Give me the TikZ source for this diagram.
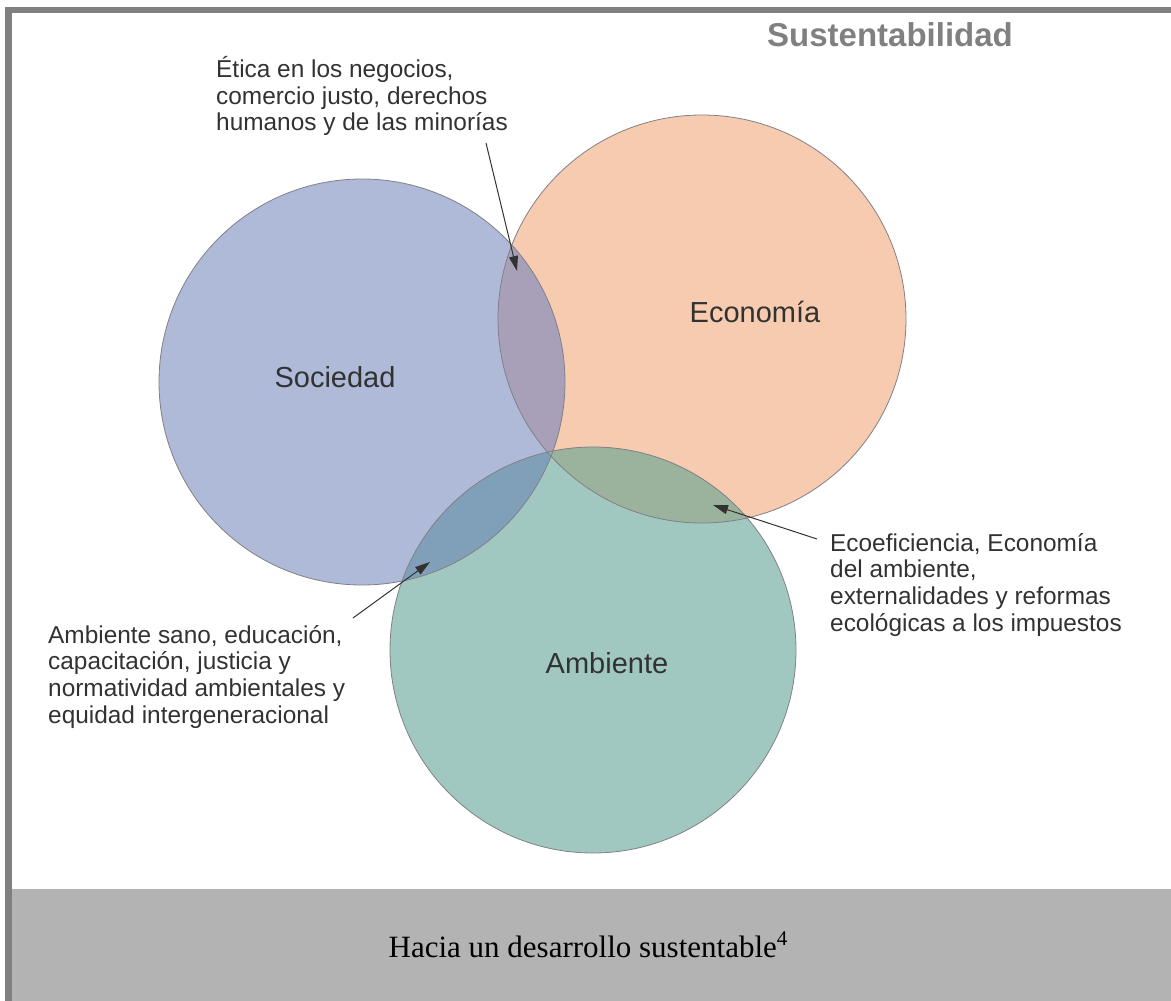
\documentclass[tikz,border=0pt]{standalone}
\usepackage{fontspec}
\setmainfont{Liberation Sans}
\newfontfamily\capfont{Liberation Serif}
\usetikzlibrary{arrows.meta}

\definecolor{soccol}{RGB}{174,186,216}
\definecolor{ecocol}{RGB}{247,203,176}
\definecolor{ambcol}{RGB}{161,200,192}
\definecolor{socecocol}{RGB}{168,160,184}
\definecolor{socambcol}{RGB}{128,160,186}
\definecolor{ecoambcol}{RGB}{155,178,157}
\definecolor{rimcol}{RGB}{128,128,136}
\definecolor{txtcol}{RGB}{50,50,50}
\definecolor{framecol}{RGB}{128,128,128}
\definecolor{bandcol}{RGB}{179,179,179}

\begin{document}
\begin{tikzpicture}[
        x=1pt, y=-1pt,
        every node/.style = {inner sep=0pt, text=txtcol},
        note/.style = {align=left, anchor=north west,
                    font=\fontsize{24.4}{26.7}\selectfont},
        setname/.style = {font=\fontsize{29}{34}\selectfont},
        rim/.style = {draw=rimcol, line width=0.8pt},
        pointer/.style = {-{Triangle[length=15pt, width=9pt]},
                    draw=txtcol, line width=1pt}
                    ]
        \useasboundingbox (0,0) rectangle (1171,1001);
        % frame and caption band
        \fill[framecol] (5,7) rectangle (1171,13);
        \fill[framecol] (5,7) rectangle (12,1001);
        \fill[bandcol] (12,889) rectangle (1171,1001);
        %
        \coordinate (soc) at (362,382);
        \coordinate (eco) at (702,319);
        \coordinate (amb) at (593,650);
        \fill[soccol] (soc) circle[radius=203pt];
        \fill[ecocol] (eco) circle[radius=204pt];
        \fill[ambcol] (amb) circle[radius=203pt];
        % overlaps
        \begin{scope}
            \clip (soc) circle[radius=203pt];
            \fill[socecocol] (eco) circle[radius=204pt];
            \fill[socambcol] (amb) circle[radius=203pt];
        \end{scope}
        \begin{scope}
            \clip (eco) circle[radius=204pt];
            \fill[ecoambcol] (amb) circle[radius=203pt];
        \end{scope}
        \draw[rim] (soc) circle[radius=203pt];
        \draw[rim] (eco) circle[radius=204pt];
        \draw[rim] (amb) circle[radius=203pt];
        %
        \node (nsoc) [setname] at (335,377) {Sociedad};
        \node (neco) [setname] at (755,312) {Economía};
        \node (namb) [setname] at (607,663) {Ambiente};
        \node (title) [font=\bfseries\fontsize{33}{38}\selectfont, text=framecol]
            at (890,35) {Sustentabilidad};
        %
        \node (etica) [note] at (216,56) {Ética en los negocios,\\comercio justo, derechos\\humanos y de las minorías};
        \node (ecoef) [note] at (830,533) {Ecoeficiencia, Economía\\del ambiente,\\externalidades y reformas\\ecológicas a los impuestos};
        \node (sano) [note] at (48,625) {Ambiente sano, educación,\\capacitación, justicia y\\normatividad ambientales y\\equidad intergeneracional};
        %
        \coordinate (t1) at (486,143);  \coordinate (h1) at (517,271);
        \coordinate (t2) at (817,539);  \coordinate (h2) at (713,505);
        \coordinate (t3) at (353,618);  \coordinate (h3) at (430,562);
        \draw[pointer] (t1) -- (h1);
        \draw[pointer] (t2) -- (h2);
        \draw[pointer] (t3) -- (h3);
        %
        \node (caption) [font=\capfont\fontsize{31}{36}\selectfont, text=black]
            at (588,945) {Hacia un desarrollo sustentable\raisebox{12pt}{\fontsize{21}{21}\selectfont 4}};
    \end{tikzpicture}
\end{document}
